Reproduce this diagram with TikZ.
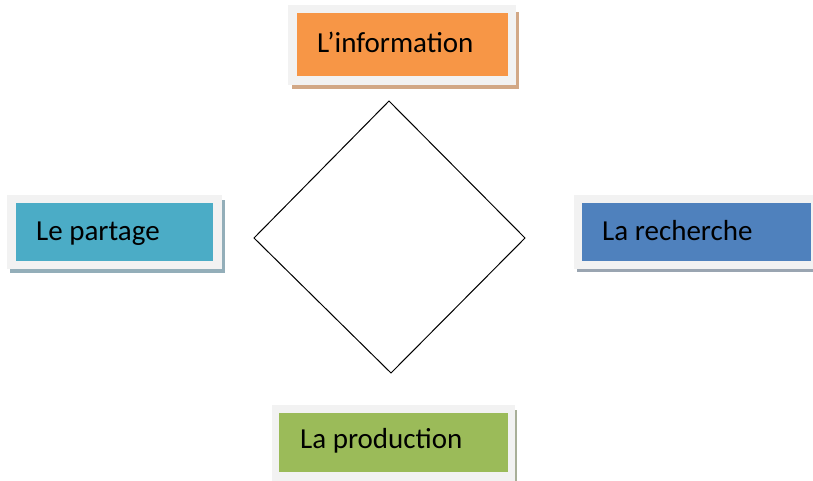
\documentclass[tikz,border=0pt]{standalone}
\usepackage{fontspec}
\setmainfont{Carlito}
\usepackage{tikz}

\definecolor{frame}{HTML}{F2F2F2}
\definecolor{orangebox}{HTML}{F79646}
\definecolor{tealbox}{HTML}{4BACC6}
\definecolor{bluebox}{HTML}{4F81BD}
\definecolor{greenbox}{HTML}{9BBB59}
\definecolor{orangeshadow}{HTML}{D2A886}
\definecolor{tealshadow}{HTML}{93AEB9}
\definecolor{blueshadow}{HTML}{9AA5B1}
\definecolor{greenshadow}{HTML}{A8AF98}

\begin{document}
\begin{tikzpicture}[x=1pt, y=-1pt,
  label/.style={anchor=base west, inner sep=0pt,
                font=\fontsize{29}{30}\selectfont}]
\useasboundingbox (0, 0) rectangle (813, 480);
\coordinate (t) at (389, 101);
\coordinate (l) at (254, 238);
\coordinate (r) at (525, 238);
\coordinate (b) at (391, 373);
% top box
\fill[orangeshadow] (292, 12) rectangle (519, 89);
\fill[frame] (288, 5) rectangle (516, 85);
\fill[orangebox] (297, 13) rectangle (508, 76);
\node[label] (info) at (317, 52) {L’information};
% left box
\fill[tealshadow] (10, 200) rectangle (225, 273);
\fill[frame] (7, 195) rectangle (222, 269);
\fill[tealbox] (16, 203) rectangle (213, 261);
\node[label] (partage) at (36, 240) {Le partage};
% right box
\fill[blueshadow] (577, 200) rectangle (820, 272);
\fill[frame] (574, 195) rectangle (820, 269);
\fill[bluebox] (582, 203) rectangle (811, 261);
\node[label] (recherche) at (602, 240) {La recherche};
% bottom box
\fill[greenshadow] (276, 410) rectangle (517, 490);
\fill[frame] (272, 405) rectangle (515, 490);
\fill[greenbox] (279, 413) rectangle (508, 472);
\node[label] (production) at (300, 448) {La production};
% diamond
\draw[line width=1pt] (t) -- (r) -- (b) -- (l) -- cycle;
\end{tikzpicture}
\end{document}
